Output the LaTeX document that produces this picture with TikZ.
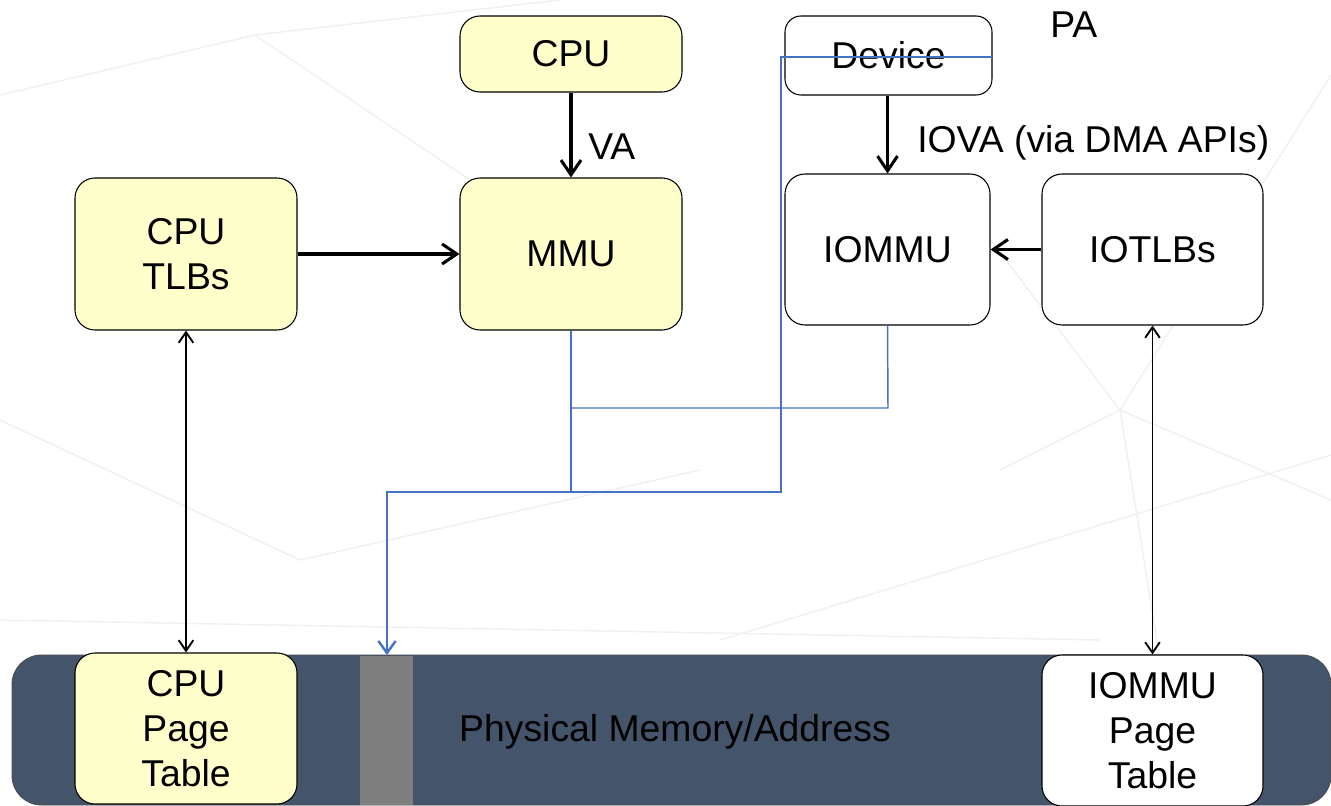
\documentclass[tikz,border=0pt]{standalone}
\usepackage{fontspec}
\setmainfont{Liberation Sans}
\usetikzlibrary{arrows.meta}
\definecolor{yb}{HTML}{FFFFCC}
\definecolor{memc}{HTML}{44546A}
\definecolor{stripc}{HTML}{7F7F7F}
\definecolor{bl}{HTML}{4472C4}
\tikzset{
  box/.style={draw=black, line width=0.8pt, rounded corners=15pt, align=center, inner sep=0pt,
     font=\fontsize{28}{33.5}\selectfont},
  ybox/.style={box, fill=yb},
  wbox/.style={box, fill=white},
  thick arrow/.style={line width=2.3pt, -{Straight Barb[length=11pt,width=15pt,line width=2.3pt]}},
  dbl arrow/.style={line width=1.4pt, {Straight Barb[length=8pt,width=11pt,line width=1.4pt]}-{Straight Barb[length=8pt,width=11pt,line width=1.4pt]}},
  blue thick/.style={draw=bl, line width=2pt},
  blue thin/.style={draw=bl, line width=1.1pt},
  lbl/.style={font=\fontsize{28}{33.5}\selectfont, inner sep=0pt}
}
\begin{document}
\begin{tikzpicture}[x=0.75pt,y=-0.75pt]
\useasboundingbox (0,0) rectangle (1331,806);
\fill[white] (0,0) rectangle (1331,806);
% faint background lines
\begin{scope}[draw=black!6, line width=1pt]
\draw (0,95) -- (255,35) -- (560,0);
\draw (255,35) -- (470,180);
\draw (1331,75) -- (1120,410) -- (1331,500);
\draw (1120,410) -- (960,200);
\draw (1120,410) -- (1000,470);
\draw (1120,410) -- (1160,660);
\draw (0,420) -- (300,560) -- (700,470);
\draw (720,640) -- (1331,455);
\draw (0,620) -- (1100,640);
\end{scope}
% memory bar
\node[draw=black!70, fill=memc, rounded corners=22pt, line width=0.6pt, minimum width=989.25pt, minimum height=112.5pt, inner sep=0pt] (mem) at (671.5,730) {};
\fill[stripc] (360,656) rectangle (413,805);
\node[lbl] (pm) at (675,732) {Physical Memory/Address};
% nodes
\node[ybox, minimum width=166.5pt, minimum height=57pt] (cpu) at (571,54) {CPU};
\node[wbox, minimum width=155.25pt, minimum height=59.25pt, rounded corners=12pt] (dev) at (888.5,55.5) {Device};
\node[ybox, minimum width=166.5pt, minimum height=114pt] (tlb) at (186,254) {CPU\\TLBs};
\node[ybox, minimum width=166.5pt, minimum height=114pt] (mmu) at (571,254) {MMU};
\node[wbox, minimum width=153.75pt, minimum height=113.25pt] (iommu) at (887.5,249.5) {IOMMU};
\node[wbox, minimum width=165.75pt, minimum height=113.25pt] (iotlb) at (1152.5,249.5) {IOTLBs};
\node[ybox, minimum width=166.5pt, minimum height=113.25pt] (cpt) at (186,728.5) {CPU\\Page\\Table};
\node[wbox, minimum width=165.75pt, minimum height=113.25pt] (ipt) at (1152.5,730.5) {IOMMU\\Page\\Table};
% labels
\node[lbl, anchor=west] (va) at (588,147) {VA};
\node[lbl, anchor=west] (iova) at (917,143) {IOVA (via DMA APIs)};
\node[lbl, anchor=west] (pa) at (1050,25) {PA};
% black connectors
\draw[thick arrow] (cpu.south) -- (mmu.north);
\draw[thick arrow] (dev.south -| iommu.south) -- (iommu.north);
\draw[thick arrow] (tlb.east) -- (mmu.west);
\draw[thick arrow] (iotlb.west) -- (iommu.east);
\draw[dbl arrow] (tlb.south) -- (cpt.north);
\draw[dbl arrow] (iotlb.south) -- (ipt.north);
% blue paths
\coordinate (j1) at (571,492);
\coordinate (j0) at (571,408);
\coordinate (k0) at (888,408);
\coordinate (j2) at (387,492);
\coordinate (pt) at (387,655);
\coordinate (d1) at (781,492);
\coordinate (d2) at (781,57);
\coordinate (d3) at (992,57);
\draw[blue thin] (iommu.south) -- (k0) -- (j0);
\draw[blue thin] (j1) -- (d1) -- (d2) -- (d3);
\draw[blue thick, -{Straight Barb[length=9pt,width=13pt,line width=1.8pt]}] (mmu.south) -- (j1) -- (j2) -- (pt);
\end{tikzpicture}
\end{document}
